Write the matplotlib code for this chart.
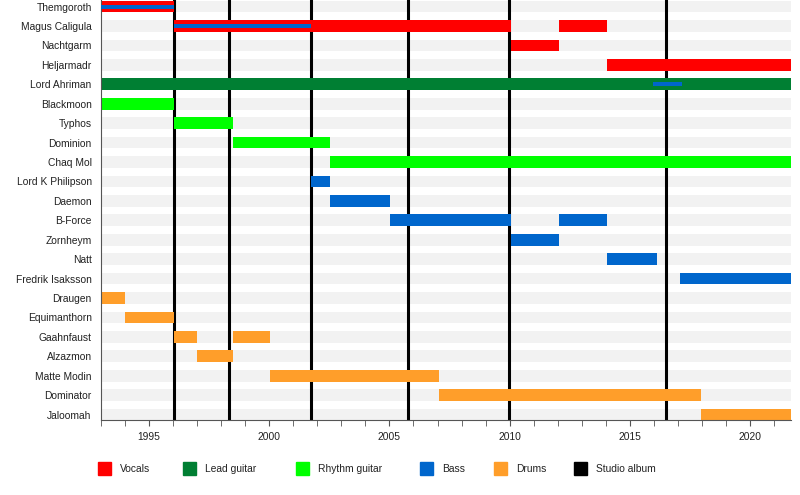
import matplotlib
matplotlib.use("Agg")
import matplotlib.pyplot as plt
from matplotlib.patches import Rectangle

plt.rcParams['font.family'] = ['Liberation Sans', 'DejaVu Sans']

# ---- data ----
members = ["Themgoroth", "Magus Caligula", "Nachtgarm", "Heljarmadr", "Lord Ahriman",
           "Blackmoon", "Typhos", "Dominion", "Chaq Mol", "Lord K Philipson", "Daemon",
           "B-Force", "Zornheym", "Natt", "Fredrik Isaksson", "Draugen", "Equimanthorn",
           "Gaahnfaust", "Alzazmon", "Matte Modin", "Dominator", "Jaloomah"]

start_year = 1993.0
end_year = 2021.7

# main spans
span_member = ["Themgoroth", "Magus Caligula", "Magus Caligula", "Nachtgarm", "Heljarmadr",
               "Lord Ahriman", "Blackmoon", "Typhos", "Dominion", "Chaq Mol",
               "Lord K Philipson", "Daemon", "B-Force", "B-Force", "Zornheym", "Natt",
               "Fredrik Isaksson", "Draugen", "Equimanthorn", "Gaahnfaust", "Gaahnfaust",
               "Alzazmon", "Matte Modin", "Dominator", "Jaloomah"]
span_role = ["Vocals", "Vocals", "Vocals", "Vocals", "Vocals",
             "Lead guitar", "Rhythm guitar", "Rhythm guitar", "Rhythm guitar", "Rhythm guitar",
             "Bass", "Bass", "Bass", "Bass", "Bass", "Bass",
             "Bass", "Drums", "Drums", "Drums", "Drums",
             "Drums", "Drums", "Drums", "Drums"]
span_start = [1993.0, 1996.05, 2012.04, 2010.05, 2014.03,
              1993.0, 1993.0, 1996.05, 1998.5, 2002.53,
              2001.75, 2002.53, 2005.02, 2012.04, 2010.05, 2014.03,
              2017.07, 1993.0, 1994.0, 1996.05, 1998.5,
              1997.0, 2000.03, 2007.06, 2017.94]
span_end = [1996.05, 2010.05, 2014.03, 2012.04, 2021.7,
            2021.7, 1996.05, 1998.5, 2002.53, 2021.7,
            2002.53, 2005.02, 2010.05, 2014.03, 2012.04, 2016.11,
            2021.7, 1994.0, 1996.05, 1997.0, 2000.03,
            1998.5, 2007.06, 2017.94, 2021.7]

# secondary (thin) spans
sec_member = ["Themgoroth", "Magus Caligula", "Lord Ahriman"]
sec_role = ["Bass", "Bass", "Bass"]
sec_start = [1993.0, 1996.05, 2015.95]
sec_end = [1996.05, 2001.75, 2017.15]

albums = [1996.05, 1998.33, 2001.75, 2005.77, 2009.96, 2016.49]

roles = ["Vocals", "Lead guitar", "Rhythm guitar", "Bass", "Drums", "Studio album"]
role_colors = {"Vocals": "#ff0000", "Lead guitar": "#007f33", "Rhythm guitar": "#00ff00",
               "Bass": "#0066cc", "Drums": "#ff9e2a", "Studio album": "#000000"}

# ---- figure ----
fig = plt.figure(figsize=(8, 4.95), dpi=100)
ax = fig.add_axes([0.1259, 1 - 420 / 495, 0.989 - 0.1259, 420 / 495])

n = len(members)
ypos = {m: i for i, m in enumerate(members)}
bh = 0.6

# background bands
for i in range(n):
    ax.barh(i, end_year - start_year, left=start_year, height=bh, color="#f2f2f2",
            zorder=0, linewidth=0)

for a in albums:
    ax.axvline(a, color="black", linewidth=2.2, zorder=1)

for m, r, s, e in zip(span_member, span_role, span_start, span_end):
    ax.barh(ypos[m], e - s, left=s, height=bh, color=role_colors[r], zorder=2, linewidth=0)

for m, r, s, e in zip(sec_member, sec_role, sec_start, sec_end):
    ax.barh(ypos[m], e - s, left=s, height=0.2, color=role_colors[r], zorder=3, linewidth=0)

ax.set_xlim(start_year, end_year)
ax.set_ylim(21.28, -0.34)
ax.set_yticks(range(n))
ax.set_yticklabels(members, fontsize=7.4, color="#222222")
ax.tick_params(axis='y', length=0, pad=6.5)
ax.set_xticks([1995, 2000, 2005, 2010, 2015, 2020])
ax.set_xticks(range(1993, 2022), minor=True)
ax.tick_params(axis='x', which='major', length=4, color="#555555", labelsize=7.4,
               labelcolor="#222222", pad=4.5)
ax.tick_params(axis='x', which='minor', length=4, color="#555555")
for side in ["top", "right"]:
    ax.spines[side].set_visible(False)
for side in ["left", "bottom"]:
    ax.spines[side].set_color("#555555")
    ax.spines[side].set_linewidth(0.8)

# legend
leg_x = [98, 183, 296, 420, 494, 574]
for x, r in zip(leg_x, roles):
    fig.patches.append(Rectangle((x / 800, 1 - 475 / 495), 13 / 800, 13 / 495,
                                 transform=fig.transFigure, color=role_colors[r]))
    fig.text((x + 22) / 800, 1 - 469 / 495, r, fontsize=7.4, va="center", ha="left",
             color="#222222")

fig.savefig("out.png", dpi=100)
